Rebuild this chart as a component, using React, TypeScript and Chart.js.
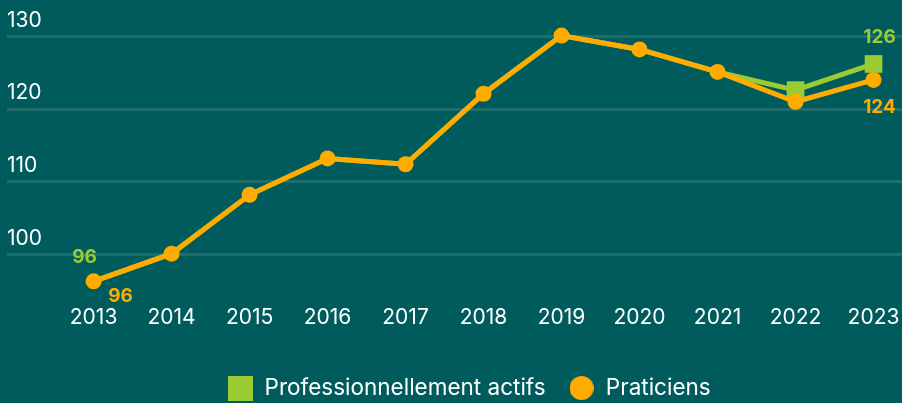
import React, { useEffect, useRef } from 'react';
import { Chart, registerables } from 'chart.js';

Chart.register(...registerables);

const years = [2013, 2014, 2015, 2016, 2017, 2018, 2019, 2020, 2021, 2022, 2023];
const professionnellementActifs = [96.3, 100.1, 108.2, 113.2, 112.4, 122.1, 130.1, 128.2, 125.1, 122.6, 126.2];
const praticiens = [96.3, 100.1, 108.2, 113.2, 112.4, 122.1, 130.1, 128.2, 125.1, 121.0, 124.0];
const yTicks = [100, 110, 120, 130];
const seriesNames = ['Professionnellement actifs', 'Praticiens'];

const BG = '#005c5c';
const GRID = '#1f6d6d';
const GREEN = '#9bcb33';
const ORANGE = '#ffab00';
const FONT = 'Inter, "Liberation Sans", Arial, sans-serif';

function makeSquare(size: number, color: string) {
  const c = document.createElement('canvas');
  c.width = size;
  c.height = size;
  const ctx = c.getContext('2d')!;
  ctx.fillStyle = color;
  ctx.fillRect(0, 0, size, size);
  return c;
}

function makeCircle(size: number, color: string) {
  const c = document.createElement('canvas');
  c.width = size;
  c.height = size;
  const ctx = c.getContext('2d')!;
  ctx.fillStyle = color;
  ctx.beginPath();
  ctx.arc(size / 2, size / 2, size / 2, 0, Math.PI * 2);
  ctx.fill();
  return c;
}

const endLabelsPlugin = {
  id: 'endLabels',
  afterLayout(chart: any) {
    if (chart.legend) {
      chart.legend.left += 14.5;
      chart.legend.right += 14.5;
    }
  },
  afterDatasetsDraw(chart: any) {
    const ctx = chart.ctx;
    ctx.save();
    ctx.font = `bold 19px ${FONT}`;
    ctx.textAlign = 'center';
    ctx.textBaseline = 'middle';
    const specs = [
      { ds: 0, idx: 0, dx: -9, dy: -24, color: GREEN },
      { ds: 1, idx: 0, dx: 27, dy: 15, color: ORANGE },
      { ds: 0, idx: years.length - 1, dx: 6, dy: -27, color: GREEN },
      { ds: 1, idx: years.length - 1, dx: 6, dy: 27, color: ORANGE },
    ];
    specs.forEach((s) => {
      const meta = chart.getDatasetMeta(s.ds);
      const pt = meta.data[s.idx];
      const v = chart.data.datasets[s.ds].data[s.idx].y;
      ctx.fillStyle = s.color;
      ctx.fillText(String(Math.round(v)), pt.x + s.dx, pt.y + s.dy);
    });
    ctx.restore();
  },
};

const zeroPadding = (s: any) => {
  s.paddingTop = 0;
  s.paddingBottom = 0;
  s.paddingLeft = 0;
  s.paddingRight = 0;
};

export default function App() {
  const ref = useRef<HTMLCanvasElement>(null);

  useEffect(() => {
    document.body.style.margin = '0';
    const greenBox = makeSquare(25, GREEN);
    const orangeDot = makeCircle(24, ORANGE);
    const chart = new Chart(ref.current!, {
      type: 'line',
      data: {
        datasets: [
          {
            label: seriesNames[0],
            data: years.map((y, i) => ({ x: y, y: professionnellementActifs[i] })),
            borderColor: GREEN,
            backgroundColor: GREEN,
            borderWidth: 5,
            pointStyle: 'rect',
            pointRadius: years.map((_, i) => (i >= years.length - 2 ? 12.5 : 0)),
            pointBorderWidth: 0,
            order: 1,
            clip: false,
          },
          {
            label: seriesNames[1],
            data: years.map((y, i) => ({ x: y, y: praticiens[i] })),
            borderColor: ORANGE,
            backgroundColor: ORANGE,
            borderWidth: 5,
            pointStyle: 'circle',
            pointRadius: 8,
            pointBorderWidth: 0,
            order: 0,
            clip: false,
          },
        ],
      },
      options: {
        animation: false,
        responsive: false,
        maintainAspectRatio: false,
        layout: { autoPadding: false, padding: { left: 7, right: 0, top: 0, bottom: -6.25 } },
        scales: {
          x: {
            type: 'linear',
            min: 2011.89,
            max: 2023.365,
            afterBuildTicks: (s: any) => {
              s.ticks = years.map((v) => ({ value: v }));
            },
            afterFit: (s: any) => {
              zeroPadding(s);
              s.height = 55.75;
            },
            grid: { display: false, drawTicks: false },
            border: { display: false },
            ticks: {
              color: '#ffffff',
              font: { family: FONT, size: 21 },
              padding: 7.4,
              maxRotation: 0,
              autoSkip: false,
              callback: (v: any) => String(v),
            },
          },
          y: {
            min: 94,
            max: 135,
            afterBuildTicks: (s: any) => {
              s.ticks = yTicks.map((v) => ({ value: v }));
            },
            afterFit: zeroPadding,
            grid: { color: GRID, lineWidth: 3, drawTicks: false },
            border: { display: false },
            ticks: {
              mirror: true,
              padding: 0,
              labelOffset: -16,
              color: '#ffffff',
              font: { family: FONT, size: 21 },
            },
          },
        },
        plugins: {
          tooltip: { enabled: false },
          legend: {
            position: 'bottom',
            labels: {
              usePointStyle: true,
              pointStyleWidth: 26,
              padding: 23,
              color: '#ffffff',
              font: { family: FONT, size: 22.5 },
              generateLabels: () => [
                {
                  text: seriesNames[0],
                  pointStyle: greenBox,
                  fillStyle: GREEN,
                  strokeStyle: GREEN,
                  lineWidth: 0,
                  hidden: false,
                  datasetIndex: 0,
                  fontColor: '#ffffff',
                },
                {
                  text: seriesNames[1],
                  pointStyle: orangeDot,
                  fillStyle: ORANGE,
                  strokeStyle: ORANGE,
                  lineWidth: 0,
                  hidden: false,
                  datasetIndex: 1,
                  fontColor: '#ffffff',
                },
              ],
            },
          },
        },
      } as any,
      plugins: [endLabelsPlugin],
    });
    return () => chart.destroy();
  }, []);

  return (
    <div style={{ width: 902, height: 403, background: BG, overflow: 'hidden' }}>
      <canvas ref={ref} width={902} height={403} style={{ display: 'block' }} />
    </div>
  );
}
